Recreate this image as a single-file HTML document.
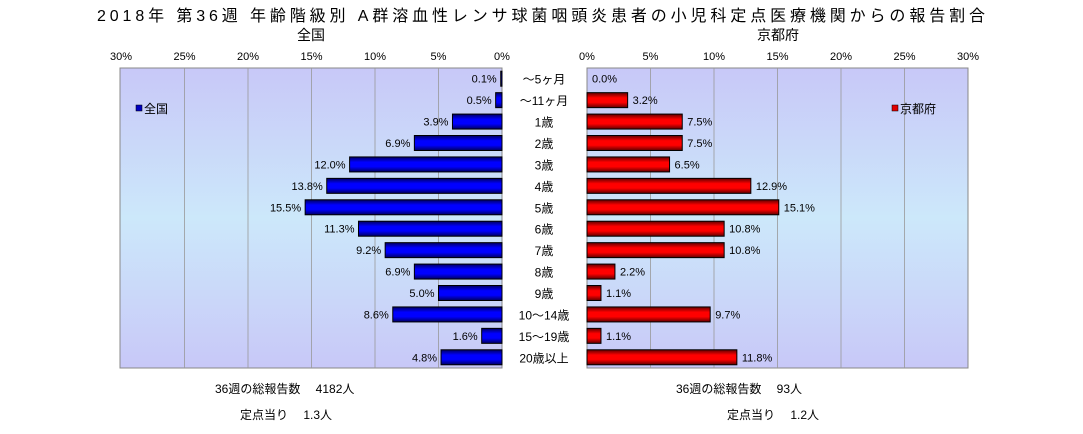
<!DOCTYPE html>
<html><head><meta charset="utf-8"><style>
body{margin:0;background:#fff;font-family:"Liberation Sans","Noto Sans CJK JP",sans-serif;}
svg text{font-family:"Liberation Sans","Noto Sans CJK JP",sans-serif;}
</style></head><body>
<svg width="1083" height="429" id="c">
<defs>
<linearGradient id="bg" x1="0" y1="0" x2="0" y2="1">
<stop offset="0" stop-color="#c8c8f8"/><stop offset="0.5" stop-color="#cce8fa"/><stop offset="1" stop-color="#c8c8f8"/></linearGradient>
<linearGradient id="gb" x1="0" y1="0" x2="0" y2="1">
<stop offset="0" stop-color="#000060"/><stop offset="0.35" stop-color="#0000ff"/><stop offset="0.65" stop-color="#0000ff"/><stop offset="1" stop-color="#000060"/></linearGradient>
<linearGradient id="gr" x1="0" y1="0" x2="0" y2="1">
<stop offset="0" stop-color="#600000"/><stop offset="0.35" stop-color="#ff0000"/><stop offset="0.65" stop-color="#ff0000"/><stop offset="1" stop-color="#600000"/></linearGradient>
</defs>
<text x="97" y="21" font-size="16" textLength="888" lengthAdjust="spacing">2018年 第36週 年齢階級別 A群溶血性レンサ球菌咽頭炎患者の小児科定点医療機関からの報告割合</text>
<text x="311" y="40" font-size="14" text-anchor="middle">全国</text>
<text x="778" y="40" font-size="14" text-anchor="middle">京都府</text>
<rect x="120" y="68" width="382" height="300" fill="url(#bg)" stroke="#888"/>
<rect x="587" y="68" width="381" height="300" fill="url(#bg)" stroke="#888"/>
<g id="g"></g>
<rect x="136" y="105" width="6" height="6" fill="#0000c0" stroke="#000" stroke-width="0.5"/>
<text x="144" y="113" font-size="12">全国</text>
<rect x="892" y="105" width="6" height="6" fill="#e00000" stroke="#000" stroke-width="0.5"/>
<text x="900" y="113" font-size="12">京都府</text>
<text x="215" y="393" font-size="12">36週の総報告数　 4182人</text>
<text x="240" y="419" font-size="12">定点当り　 1.3人</text>
<text x="676" y="393" font-size="12">36週の総報告数　 93人</text>
<text x="727" y="419" font-size="12">定点当り　 1.2人</text>
</svg>
<script>
const categories=["～5ヶ月","～11ヶ月","1歳","2歳","3歳","4歳","5歳","6歳","7歳","8歳","9歳","10～14歳","15～19歳","20歳以上"];
const nationalValues=[0.1,0.5,3.9,6.9,12.0,13.8,15.5,11.3,9.2,6.9,5.0,8.6,1.6,4.8];
const kyotoValues=[0.0,3.2,7.5,7.5,6.5,12.9,15.1,10.8,10.8,2.2,1.1,9.7,1.1,11.8];
const tickValues=[0,5,10,15,20,25,30];
const NS="http://www.w3.org/2000/svg",g=document.getElementById('g');
const L0=502,R0=587,PX=381/30,TOP=68,ROW=300/categories.length,BH=15;
const xl=v=>L0-v*PX,xr=v=>R0+v*PX,yc=i=>TOP+ROW*(i+0.5);
function mk(t,a,txt){const e=document.createElementNS(NS,t);for(const k in a)e.setAttribute(k,a[k]);if(txt!=null)e.textContent=txt;g.appendChild(e);return e;}
tickValues.forEach(t=>{
 if(t>0&&t<30){let e=mk('line',{x1:xl(t),x2:xl(t),y1:68,y2:368,stroke:'#999','stroke-width':0.8});
 
 
 e=mk('line',{x1:xr(t),x2:xr(t),y1:68,y2:368,stroke:'#999','stroke-width':0.8});
 
 }
 let a=mk('text',{x:xl(t),y:60,'font-size':11,'text-anchor':'middle'},t+'%');
 
 
 a=mk('text',{x:xr(t),y:60,'font-size':11,'text-anchor':'middle'},t+'%');
 
 
});
categories.forEach((c,i)=>{
 const y=yc(i);
 let t=mk('text',{x:544,y:y+5,'font-size':12,'text-anchor':'middle'},c);
 
 
 const v=nationalValues[i];
 let b=mk('rect',{x:xl(v),y:y-BH/2,width:v*PX,height:BH,fill:'url(#gb)',stroke:'#000','stroke-width':1});
 
 
 t=mk('text',{x:xl(v)-4,y:y+4,'font-size':11,'text-anchor':'end'},v.toFixed(1)+'%');
 
 
 const k=kyotoValues[i];
 b=mk('rect',{x:R0,y:y-BH/2,width:k*PX,height:BH,fill:'url(#gr)',stroke:'#000','stroke-width':1});
 
 
 t=mk('text',{x:xr(k)+5,y:y+4,'font-size':11},k.toFixed(1)+'%');
 
 
});
</script>
</body></html>
